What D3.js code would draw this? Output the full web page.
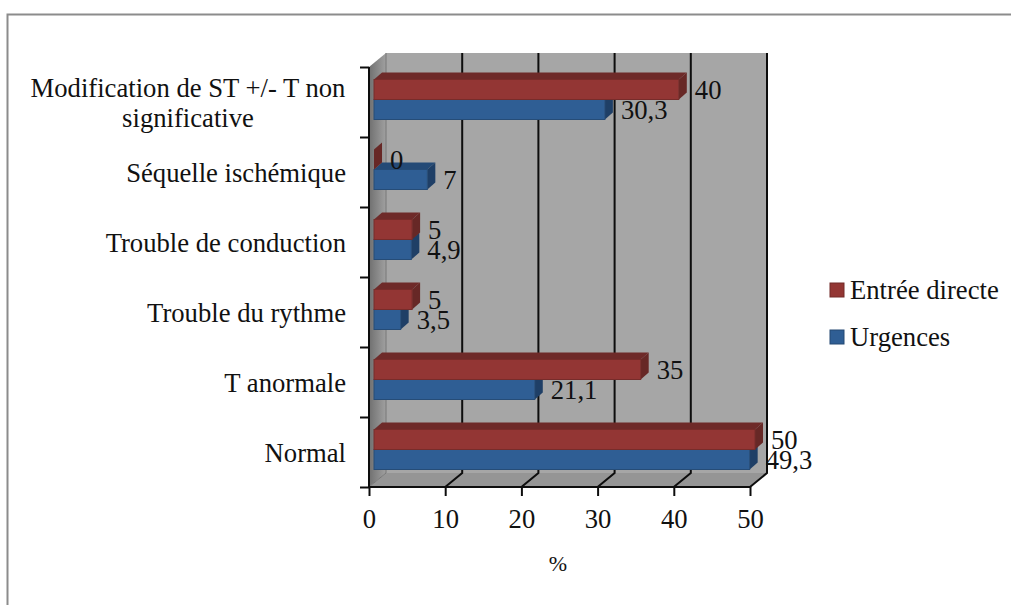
<!DOCTYPE html>
<html><head><meta charset="utf-8">
<script src="https://cdn.jsdelivr.net/npm/d3@7"></script>
<style>html,body{margin:0;padding:0;background:#fff}svg{display:block}text{font-family:"Liberation Serif",serif;fill:#111}</style>
</head><body><svg id="c" width="1011" height="605"></svg>
<script>
const categories=["Normal","T anormale","Trouble du rythme","Trouble de conduction","Séquelle ischémique","Modification de ST +/- T non significative"];
const urgences=[49.3,21.1,3.5,4.9,7,30.3];
const entree=[50,35,5,5,0,40];
const urgencesLabels=["49,3","21,1","3,5","4,9","7","30,3"];
const entreeLabels=["50","35","5","5","0","40"];
const ticks=[0,10,20,30,40,50];
const seriesNames=["Entrée directe","Urgences"];

const svg=d3.select("#c");
const FS=26.67;
const x=d3.scaleLinear().domain([0,50]).range([369,750]);
const y=d3.scaleBand().domain(d3.range(6)).range([487,67]);
const D={x:17,y:-14};
const bar={off:5,h:20,dx:8,dy:-7,shift:-2.5};
const pal={red:{f:"#933634",t:"#6e2a29",s:"#672826"},blue:{f:"#2f5e94",t:"#244a76",s:"#1f3f66"}};

// frame
svg.append("path").attr("d","M1011,14.5H7.5V605").attr("fill","none").attr("stroke","#8c8c8c").attr("stroke-width",2);

// walls
const defs=svg.append("defs");
const g1=defs.append("linearGradient").attr("id","side").attr("x1",0).attr("x2",1).attr("y1",0).attr("y2",0);
g1.append("stop").attr("offset",0).attr("stop-color","#707070");g1.append("stop").attr("offset",1).attr("stop-color","#a0a0a0");
const x0=x(0),x1=x(50),yb=y.range()[0],yt=y.range()[1];
svg.append("rect").attr("x",x0+D.x).attr("y",yt+D.y).attr("width",x1-x0).attr("height",yb-yt).attr("fill","#a6a6a6");
svg.append("path").attr("d",`M${x0},${yt}L${x0+D.x},${yt+D.y}V${yb+D.y}L${x0},${yb}Z`).attr("fill","url(#side)");
svg.append("path").attr("d",`M${x0},${yb}L${x0+D.x},${yb+D.y}H${x1+D.x}L${x1},${yb}Z`).attr("fill","#959595");

// gridlines
ticks.forEach(t=>{
  svg.append("path").attr("d",`M${x(t)},${yb}L${x(t)+D.x},${yb+D.y}V${yt+D.y}`)
    .attr("fill","none").attr("stroke",t===0?"#777":"#0d0d0d").attr("stroke-width",t===0?1:2);
});

// axes
const axX=d3.axisBottom(x).tickValues(ticks).tickSize(9).tickPadding(13).tickFormat(d3.format("d"));
const gx=svg.append("g").attr("transform",`translate(0,${yb})`).call(axX);
gx.select(".domain").attr("stroke","#0d0d0d").attr("stroke-width",2).attr("d",`M${x0},0H${x1}`);
gx.selectAll("line").attr("stroke","#0d0d0d").attr("stroke-width",2);
gx.selectAll("text").attr("font-size",FS).style("font-family","Liberation Serif");
const axY=d3.axisLeft(d3.scaleLinear().domain([0,6]).range([yb,yt])).tickValues(d3.range(7)).tickSize(9).tickFormat("");
const gy=svg.append("g").attr("transform",`translate(${x0},0)`).call(axY);
gy.select(".domain").attr("stroke","#0d0d0d").attr("stroke-width",2).attr("d",`M0,${yt}V${yb}`);
gy.selectAll("line").attr("stroke","#0d0d0d").attr("stroke-width",2);

// bars
function drawBar(sel,v,top,c){
  const a=x0+bar.off,b=a+(x(v)-x0);
  const g=sel.append("g");
  g.append("path").attr("d",`M${a},${top}L${a+bar.dx},${top+bar.dy}H${b+bar.dx}L${b},${top}Z`).attr("fill",c.t);
  g.append("path").attr("d",`M${b},${top}L${b+bar.dx},${top+bar.dy}V${top+bar.dy+bar.h}L${b},${top+bar.h}Z`).attr("fill",c.s);
  g.append("rect").attr("x",a).attr("y",top).attr("width",b-a).attr("height",bar.h).attr("fill",c.f).attr("stroke",d3.color(c.f).darker(0.6)).attr("stroke-width",1);
}
const gb=svg.append("g");
categories.forEach((_,i)=>{
  const mid=y(i)+y.bandwidth()/2+bar.shift;
  drawBar(gb,urgences[i],mid,pal.blue);
  drawBar(gb,entree[i],mid-bar.h,pal.red);
});
categories.forEach((_,i)=>{
  const mid=y(i)+y.bandwidth()/2+bar.shift;
  const lab=(v,t,cy)=>svg.append("text").attr("x",x(v)+bar.off+16).attr("y",cy).attr("dy","0.35em").attr("font-size",FS).text(t);
  lab(entree[i],entreeLabels[i],mid-10);
  lab(urgences[i],urgencesLabels[i],mid+10);
});

// category labels (the wrapped label is centred on its longest line)
const wrap={5:["Modification de ST +/- T non","significative"]};
categories.forEach((c,i)=>{
  const cy=y(i)+y.bandwidth()/2+1;
  const lines=wrap[i]||[c];
  const multi=lines.length>1;
  const t=svg.append("text").attr("text-anchor",multi?"middle":"end").attr("font-size",FS);
  lines.forEach((l,k)=>t.append("tspan").attr("x",multi?188:346).attr("y",cy+(k-(lines.length-1)/2)*30).attr("dy","0.35em").text(l));
});

// axis title
svg.append("text").attr("x",558).attr("y",563).attr("dy","0.35em").attr("text-anchor","middle").attr("font-size",22).text("%");

// legend
[[seriesNames[0],pal.red,290],[seriesNames[1],pal.blue,337]].forEach(([n,c,ly])=>{
  svg.append("rect").attr("x",830).attr("y",ly-7).attr("width",14).attr("height",14).attr("fill",c.f).attr("stroke",d3.color(c.f).darker(0.7));
  svg.append("text").attr("x",850).attr("y",ly).attr("dy","0.33em").attr("font-size",FS).text(n);
});
</script></body></html>
